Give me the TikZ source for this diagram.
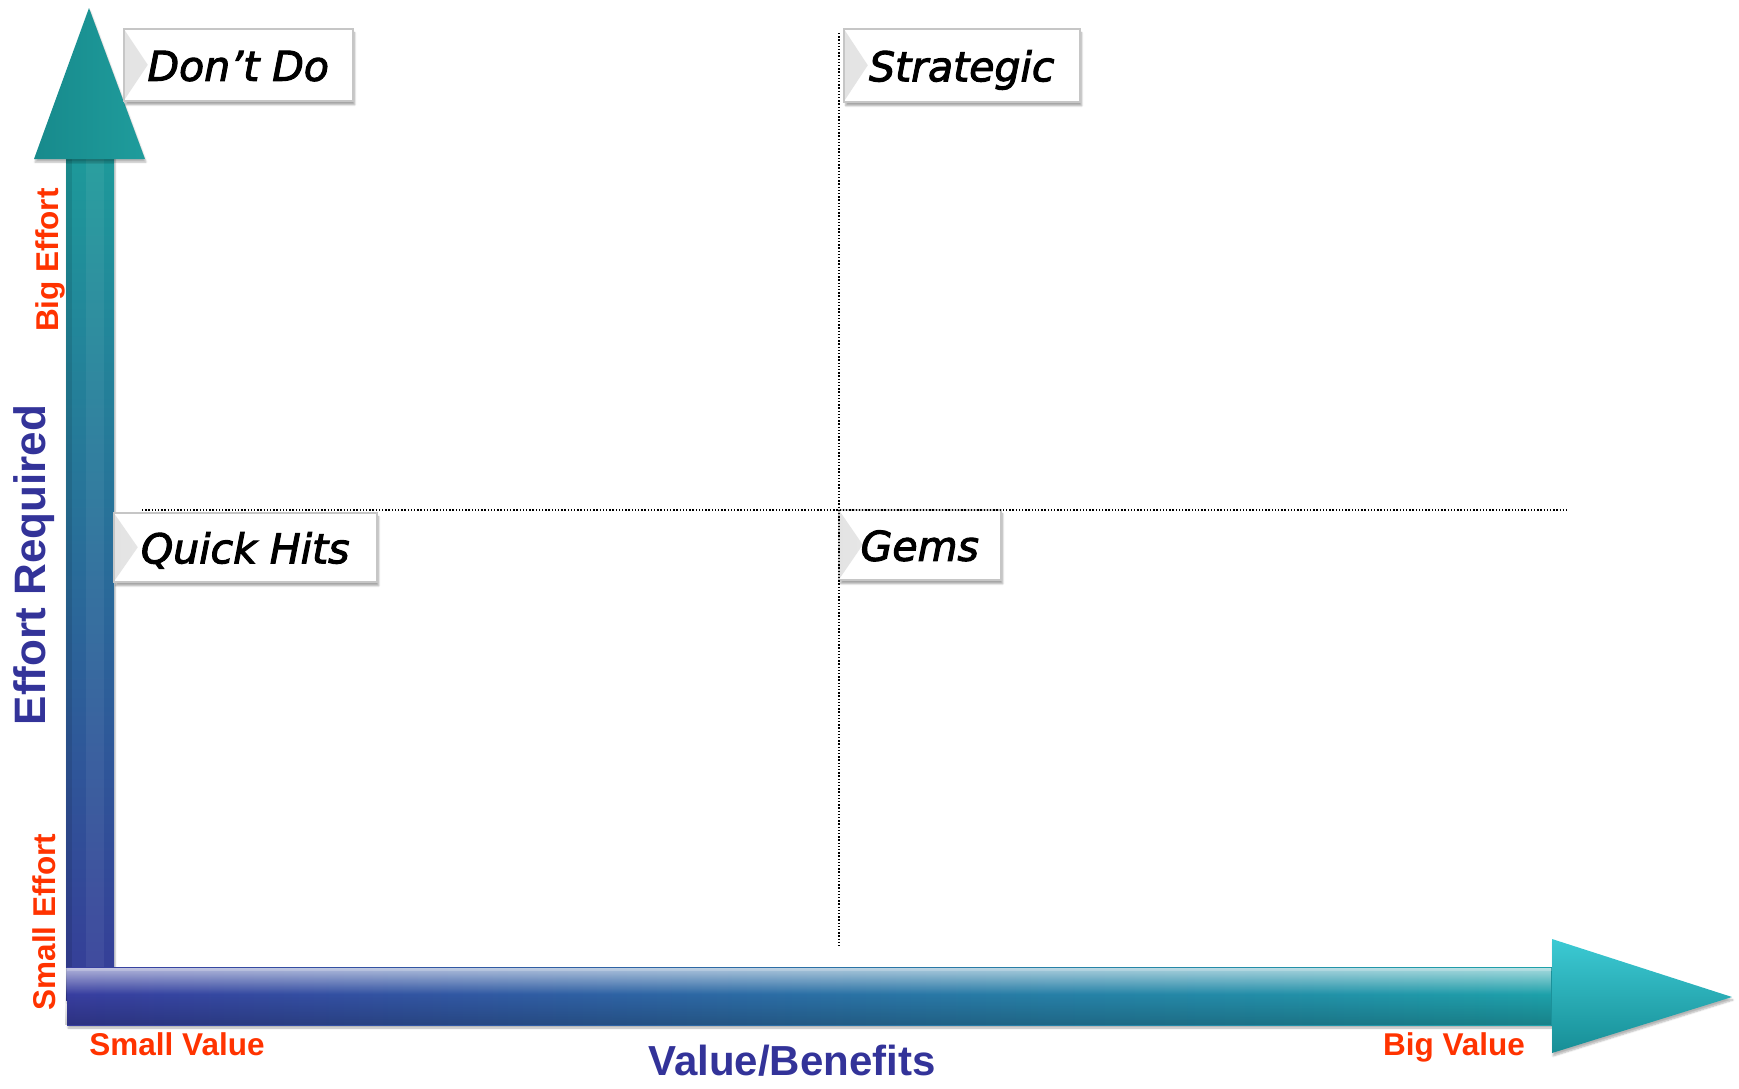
\documentclass[tikz,border=0pt]{standalone}
\usepackage{fontspec}
\newfontfamily\quadfont{DejaVu Sans Oblique}[FakeBold=2.5]
\newfontfamily\axisfont{Liberation Sans Bold}
\usetikzlibrary{shadows.blur,fadings}
\definecolor{tealtop}{HTML}{1D9A9A}
\definecolor{indigobot}{HTML}{363C98}
\definecolor{barleft}{HTML}{383EA0}
\definecolor{barright}{HTML}{1EA2AA}
\definecolor{headlight}{HTML}{3CCAD4}
\definecolor{headdark}{HTML}{178E96}
\definecolor{vheadL}{HTML}{178A8C}
\definecolor{vheadR}{HTML}{1F9C9C}
\definecolor{lblorange}{HTML}{FF3300}
\definecolor{lblindigo}{HTML}{333399}
% soft light band on the upper part of the horizontal bar
\tikzfading[name=barglow, top color=transparent!40, bottom color=transparent!100]
% soft dark band on the lower part of the horizontal bar
\tikzfading[name=barshade, top color=transparent!100, bottom color=transparent!80]
\begin{document}
\begin{tikzpicture}[x=1pt,y=-1pt,
  quad/.style={draw=gray!45, line width=1.5pt, fill=white, inner sep=0pt,
    anchor=north west, text height=38pt, text depth=6pt,
    font=\quadfont\fontsize{41pt}{41pt}\selectfont,
    blur shadow={shadow xshift=2pt, shadow yshift=-4pt, shadow blur steps=6, shadow opacity=35},
    path picture={\shade[left color=gray!22, right color=gray!4]
      (path picture bounding box.north west) -- ([xshift=24pt]path picture bounding box.west)
      -- (path picture bounding box.south west) -- cycle;}},
  guide/.style={line width=1.4pt, dash pattern=on 1.4pt off 1.8pt, black},
  endlbl/.style={font=\axisfont\fontsize{31.5pt}{31.5pt}\selectfont, text=lblorange, inner sep=0pt, anchor=base},
  axislbl/.style={font=\axisfont\fontsize{42pt}{42pt}\selectfont, text=lblindigo, inner sep=0pt, anchor=base},
  arrowshadow/.style={blur shadow={shadow xshift=1pt, shadow yshift=-3pt, shadow blur steps=6, shadow opacity=30}}
]
\useasboundingbox (0,0) rectangle (1739,1088);

% vertical axis: shaft and head
\path[arrowshadow, top color=tealtop, bottom color=indigobot] (66,150) rectangle (114,1000);
\fill[black, opacity=0.10] (66,150) rectangle (72,1000);
\fill[white, opacity=0.06] (86,150) rectangle (104,1000);
\path[arrowshadow, left color=vheadL, right color=vheadR] (34,159) -- (89,8) -- (145,159) -- cycle;

% horizontal axis: bar and head
\path[arrowshadow, left color=barleft, right color=barright] (67,967) rectangle (1560,1025);
\fill[white, path fading=barglow] (67,968) rectangle (1556,994);
\fill[black, path fading=barshade] (67,994) rectangle (1556,1025);
\fill[white, opacity=0.2] (67,968) rectangle (1556,971);
\path[arrowshadow, top color=headlight, bottom color=headdark] (1552,939) -- (1732,997) -- (1552,1053) -- cycle;

% quadrant labels
\node[quad, minimum width=229pt, minimum height=72pt] (dontdo) at (123,28) {Don’t Do};
\node[quad, minimum width=236pt, minimum height=73pt] (strategic) at (843,28) {Strategic};
\node[quad, minimum width=263pt, minimum height=69pt] (quickhits) at (113,512) {Quick Hits};
\node[quad, minimum width=162pt, minimum height=70pt] (gems) at (838,509) {Gems};

% quadrant dividers
\coordinate (vtop) at (839,33);
\coordinate (vbot) at (839,948);
\coordinate (hleft) at (142,510);
\coordinate (hright) at (1567,510);
\draw[guide] (vtop) -- (vbot);
\draw[guide] (hleft) -- (hright);

% axis captions
\node[endlbl, rotate=90] (bigeffort) at (58,260) {Big Effort};
\node[endlbl, rotate=90] (smalleffort) at (55,922) {Small Effort};
\node[axislbl, rotate=90, font=\axisfont\fontsize{44pt}{44pt}\selectfont] (effort) at (45,565) {Effort Required};
\node[endlbl] (smallvalue) at (177,1055) {Small Value};
\node[endlbl] (bigvalue) at (1454,1055) {Big Value};
\node[axislbl] (value) at (792,1075) {Value/Benefits};
\end{tikzpicture}
\end{document}
